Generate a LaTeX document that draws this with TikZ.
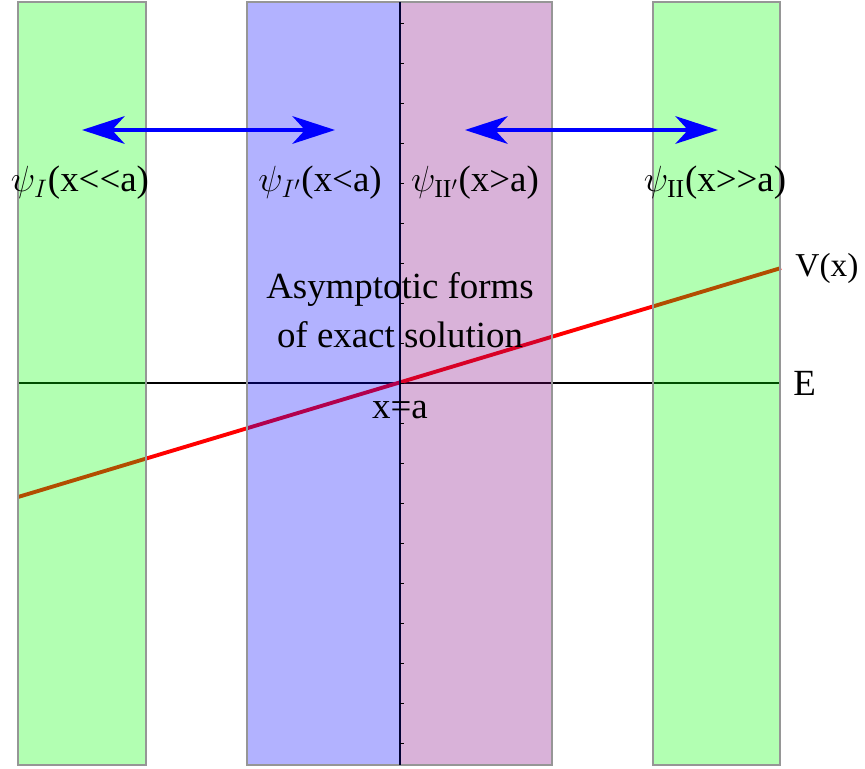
\documentclass[tikz,border=0pt]{standalone}
\usepackage{fontspec}
\setmainfont{Liberation Serif}
\usetikzlibrary{arrows.meta, positioning}
\definecolor{bandgreen}{RGB}{0,255,0}
\definecolor{bandblue}{RGB}{0,0,255}
\definecolor{bandpurple}{RGB}{128,0,128}
\definecolor{edgegray}{RGB}{150,150,150}

\begin{document}
\begin{tikzpicture}[x=0.02cm, y=-0.02cm,
    band/.style={draw=edgegray, line width=1.2pt, fill opacity=0.3},
    lbl/.style={font=\fontsize{21}{28}\selectfont, inner sep=0pt, align=center},
    arr/.style={{Stealth[length=0.85cm, width=0.55cm, inset=0.25cm]}-{Stealth[length=0.85cm, width=0.55cm, inset=0.25cm]}, line width=2.6pt, blue},
    axis/.style={line width=0.8pt, black},
    pot/.style={line width=2.2pt, red}
]
\useasboundingbox (0,0) rectangle (865,768);

% energy level and potential
\draw[axis] (18,383) -- (781,383);
\coordinate (vl) at (18,497);
\coordinate (vr) at (781,268);
\draw[pot] (vl) -- (vr);

% regions
\draw[band, fill=bandgreen] (18,2) rectangle (146,765);
\draw[band, fill=bandblue] (247,2) rectangle (400,765);
\draw[band, fill=bandpurple] (400,2) rectangle (552,765);
\draw[band, fill=bandgreen] (653,2) rectangle (780,765);

% turning point axis with ticks
\draw[axis, black!80!blue] (400,2) -- (400,765);
\foreach \k in {-9,...,9}
    \draw[axis, line width=0.5pt] (400,383+40*\k) -- ++(4,0);

% matching arrows
\coordinate (la) at (82,130);
\coordinate (lb) at (335,130);
\coordinate (ra) at (465,130);
\coordinate (rb) at (718,130);
\draw[arr] (la) -- (lb);
\draw[arr] (ra) -- (rb);

% labels
\node[lbl] (psiI) at (80,183) {$\psi_{I}$(x{<}{<}a)};
\node[lbl] (psiIp) at (320,183) {$\psi_{I'}$(x<a)};
\node[lbl] (psiIIp) at (475,183) {$\psi_{\mathrm{II'}}$(x>a)};
\node[lbl] (psiII) at (715,183) {$\psi_{\mathrm{II}}$(x{>}{>}a)};
\node[lbl] (asym) at (400,310) {Asymptotic forms\\of exact solution};
\node[lbl] (xa) at (400,410) {x=a};
\node[lbl, font=\fontsize{19}{24}\selectfont, right=8pt of vr] (vx) {V(x)};
\node[lbl, anchor=west] (en) at (793,383) {E};
\end{tikzpicture}
\end{document}
